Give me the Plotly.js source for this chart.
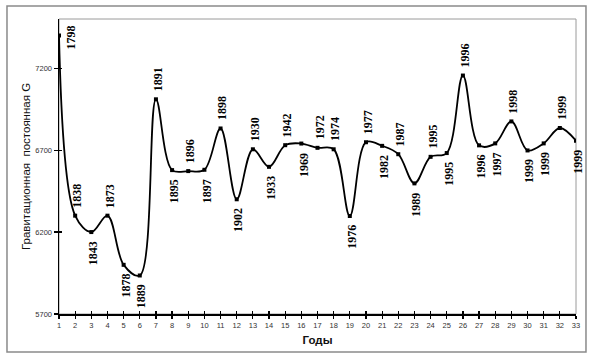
<!DOCTYPE html>
<html>
<head>
<meta charset="utf-8">
<script src="https://cdn.plot.ly/plotly-3.0.1.min.js"></script>
<style>html,body{margin:0;padding:0;background:#fff;}#chart{width:591px;height:360px;}</style>
</head>
<body>
<div id="chart"></div>
<script>
// Data
const positions = [1,2,3,4,5,6,7,8,9,10,11,12,13,14,15,16,17,18,19,20,21,22,23,24,25,26,27,28,29,30,31,32,33];
const gValues = [7400, 6300, 6200, 6300, 6000, 5935, 7010, 6578, 6572, 6580, 6832, 6400, 6705, 6598, 6730, 6740, 6714, 6705, 6298, 6748, 6726, 6675, 6497, 6659, 6682, 7155, 6729, 6741, 6875, 6698, 6741, 6835, 6757];
const yearLabels = ['1798','1838','1843','1873','1878','1889','1891','1895','1896','1897','1898','1902','1930','1933','1942','1969','1972','1974','1976','1977','1982','1987','1989','1995','1995','1996','1996','1997','1998','1999','1999','1999','1999'];
const labelSide = ['right','up','down','up','down','down','up','down','up','down','up','down','up','down','up','down','up','up','down','up','down','up','down','up','down','up','down','down','up','down','down','up','down'];
const yTickValues = [5700, 6200, 6700, 7200];

const trace = {
  x: positions,
  y: gValues,
  type: 'scatter',
  mode: 'lines+markers',
  line: {color: '#000', width: 1.8, shape: 'spline', smoothing: 1},
  marker: {symbol: 'square', size: 4, color: '#000'},
  hoverinfo: 'skip',
  showlegend: false
};

const annotations = positions.map((p, i) => {
  const side = labelSide[i];
  const a = {
    x: p, y: gValues[i], xref: 'x', yref: 'y',
    text: yearLabels[i], showarrow: false, textangle: -90,
    font: {family: 'Liberation Serif, Times New Roman, serif', size: 12, color: '#000', weight: 'bold'},
    xanchor: 'center', xshift: 2
  };
  if (side === 'up') { a.yanchor = 'bottom'; a.yshift = 6; }
  else if (side === 'down') { a.yanchor = 'top'; a.yshift = -7; }
  else { a.yanchor = 'middle'; a.yshift = -2; a.xanchor = 'left'; a.xshift = 3; }
  return a;
});

const tickFont = {family: 'Liberation Sans, Arial, sans-serif', size: 7.5, color: '#333'};

const layout = {
  width: 591, height: 360,
  margin: {l: 59, r: 15, t: 19, b: 46},
  paper_bgcolor: '#fff', plot_bgcolor: '#fff',
  showlegend: false,
  xaxis: {
    range: [1, 33], tickvals: positions, ticktext: positions.map(String),
    ticks: 'outside', ticklen: 3, tickwidth: 1.2, tickcolor: '#000',
    showline: true, linecolor: '#000', linewidth: 1.5,
    showgrid: false, zeroline: false, tickfont: tickFont,
    title: {text: 'Годы', font: {family: 'Liberation Sans, Arial, sans-serif', size: 11.5, color: '#111', weight: 'bold'}, standoff: 7}
  },
  yaxis: {
    range: [5700, 7500], tickvals: yTickValues, ticktext: yTickValues.map(String),
    ticks: 'outside', ticklen: 4, tickwidth: 1.2, tickcolor: '#000',
    showline: true, linecolor: '#000', linewidth: 1.5,
    showgrid: false, zeroline: false, tickfont: tickFont,
    title: {text: 'Гравитационная  постоянная G', font: {family: 'Liberation Sans, Arial, sans-serif', size: 11.5, color: '#111'}, standoff: 2}
  },
  xaxis2: {
    overlaying: 'x', anchor: 'y', side: 'bottom', range: [1, 33], tickvals: positions,
    ticks: 'inside', ticklen: 3, tickwidth: 1.2, tickcolor: '#000',
    showticklabels: false, showgrid: false, zeroline: false, showline: false
  },
  yaxis2: {
    overlaying: 'y', anchor: 'x', side: 'left', range: [5700, 7500], tickvals: yTickValues,
    ticks: 'inside', ticklen: 3, tickwidth: 1.2, tickcolor: '#000',
    showticklabels: false, showgrid: false, zeroline: false, showline: false
  },
  shapes: [
    {type: 'rect', xref: 'paper', yref: 'paper', x0: 0, x1: 1, y0: 0, y1: 1,
     line: {color: '#9a9a9a', width: 1}, layer: 'below'},
    {type: 'rect', xref: 'paper', yref: 'paper', x0: -0.1006, x1: 1.0193, y0: -0.1288, y1: 1.0441,
     line: {color: '#8a8a8a', width: 1.5}, layer: 'below'}
  ],
  annotations: annotations
};

const helper = {x: [1], y: [5700], xaxis: 'x2', yaxis: 'y2', mode: 'markers', marker: {opacity: 0}, hoverinfo: 'skip', showlegend: false};

Plotly.newPlot('chart', [trace, helper], layout, {staticPlot: true, displayModeBar: false});
</script>
</body>
</html>
